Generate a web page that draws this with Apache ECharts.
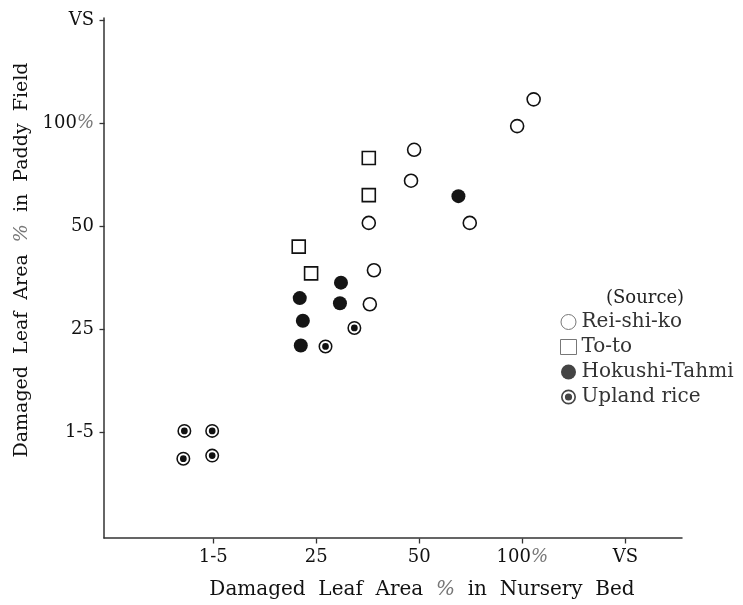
<!DOCTYPE html>
<html>
<head>
<meta charset="utf-8">
<script src="https://cdn.jsdelivr.net/npm/echarts@6/dist/echarts.min.js"></script>
<style>
  html, body { margin: 0; padding: 0; background: #fff; }
  #main { width: 743px; height: 605px; }
</style>
</head>
<body>
<div id="main"></div>
<script>
// tick positions 1..5 stand for the class labels below
var tickLabels = ['1-5', '25', '50', '100%', 'VS'];
var tickValues = [1, 2, 3, 4, 5];

// [nursery bed class, paddy field class]
var reiShiKo = [[2.95, 3.74], [2.92, 3.44], [2.51, 3.03], [3.49, 3.03],
                [2.56, 2.57], [2.52, 2.24], [4.11, 4.23], [3.95, 3.97]];
var toTo = [[2.51, 3.66], [2.51, 3.30], [1.83, 2.80], [1.95, 2.54]];
var hokushiTahmi = [[2.24, 2.45], [1.84, 2.30], [2.23, 2.25], [1.87, 2.08],
                    [1.85, 1.84], [3.38, 3.29]];
var uplandRice = [[0.72, 1.01], [0.99, 1.01], [0.71, 0.74], [0.99, 0.77],
                  [2.09, 1.83], [2.37, 2.01]];

var serif = 'DejaVu Serif';
var pct = { fontStyle: 'italic', color: '#777', fontFamily: serif };
// ring + centre dot
var bullseye = 'path://M10 0A10 10 0 1 1 10 20A10 10 0 1 1 10 0Z' +
  'M10 2.2A7.8 7.8 0 1 0 10 17.8A7.8 7.8 0 1 0 10 2.2Z' +
  'M10 5.2A4.8 4.8 0 1 1 10 14.8A4.8 4.8 0 1 1 10 5.2Z';

function tickFmt(v) {
  var s = tickLabels[Math.round(v) - 1] || '';
  return s.replace('%', '{p|%}');
}

var xRange = { min: -0.06, max: 5.55 };
var yRange = { min: -0.03, max: 5.02 };

var chart = echarts.init(document.getElementById('main'));

var axisCommon = {
  type: 'value',
  splitLine: { show: false },
  axisLine: { show: true, onZero: false, lineStyle: { color: '#333', width: 1.5 } },
  axisTick: { show: false },
  axisLabel: {
    customValues: tickValues,
    formatter: tickFmt,
    color: '#111',
    fontFamily: serif,
    fontSize: 18,
    margin: 10,
    rich: { p: pct }
  }
};

// short outward tick at each class position, placed through the axis scales
function tickSeries(isX) {
  return {
    type: 'custom',
    silent: true,
    clip: false,
    data: tickValues.map(function (v) {
      return isX ? [v, yRange.min] : [xRange.min, v];
    }),
    renderItem: function (params, api) {
      var p = api.coord([api.value(0), api.value(1)]);
      var x = Math.round(p[0]) + 0.5, y = Math.round(p[1]) + 0.5;
      return {
        type: 'line',
        shape: isX ? { x1: x, y1: y, x2: x, y2: y + 5 } : { x1: x, y1: y, x2: x - 5, y2: y },
        style: { stroke: '#333', lineWidth: 1.3 }
      };
    }
  };
}

var option = {
  backgroundColor: '#fff',
  animation: false,
  grid: { left: 104, right: 61, top: 18, bottom: 66 },
  title: {
    text: '(Source)',
    left: 601,
    top: 284,
    textStyle: { fontFamily: serif, fontSize: 18, fontWeight: 'normal', color: '#222' }
  },
  legend: {
    orient: 'vertical',
    left: 555,
    top: 307,
    itemWidth: 16,
    itemHeight: 15,
    itemGap: 5,
    textStyle: { fontFamily: serif, fontSize: 20, color: '#333' },
    data: [
      { name: 'Rei-shi-ko', itemStyle: { borderColor: '#777', borderWidth: 1 } },
      { name: 'To-to', itemStyle: { borderColor: '#777', borderWidth: 1 } },
      { name: 'Hokushi-Tahmi', itemStyle: { color: '#444' } },
      { name: 'Upland rice', itemStyle: { color: '#444' } }
    ]
  },
  xAxis: Object.assign({}, axisCommon, xRange, {
    name: 'Damaged  Leaf  Area  {p|%}  in  Nursery  Bed',
    nameLocation: 'middle',
    nameGap: 42,
    nameTextStyle: {
      fontFamily: serif, fontSize: 20, color: '#111',
      padding: [0, 0, 0, 58],
      rich: { p: pct }
    }
  }),
  yAxis: Object.assign({}, axisCommon, yRange, {
    name: 'Damaged  Leaf  Area  {p|%}  in  Paddy  Field',
    nameLocation: 'middle',
    nameGap: 72,
    nameTextStyle: {
      fontFamily: serif, fontSize: 19, color: '#111',
      padding: [0, 0, 0, 36],
      rich: { p: pct }
    }
  }),
  series: [
    {
      name: 'Rei-shi-ko',
      type: 'scatter',
      symbol: 'circle',
      symbolSize: 13,
      itemStyle: { color: '#fff', borderColor: '#111', borderWidth: 1.6, opacity: 1 },
      data: reiShiKo
    },
    {
      name: 'To-to',
      type: 'scatter',
      symbol: 'rect',
      symbolSize: 13,
      itemStyle: { color: '#fff', borderColor: '#111', borderWidth: 1.6, opacity: 1 },
      data: toTo
    },
    {
      name: 'Hokushi-Tahmi',
      type: 'scatter',
      symbol: 'circle',
      symbolSize: 14,
      itemStyle: { color: '#151515', opacity: 1 },
      data: hokushiTahmi
    },
    {
      name: 'Upland rice',
      type: 'scatter',
      symbol: bullseye,
      symbolSize: 14,
      itemStyle: { color: '#111', opacity: 1 },
      data: uplandRice
    },
    tickSeries(true),
    tickSeries(false)
  ]
};

chart.setOption(option);
</script>
</body>
</html>
